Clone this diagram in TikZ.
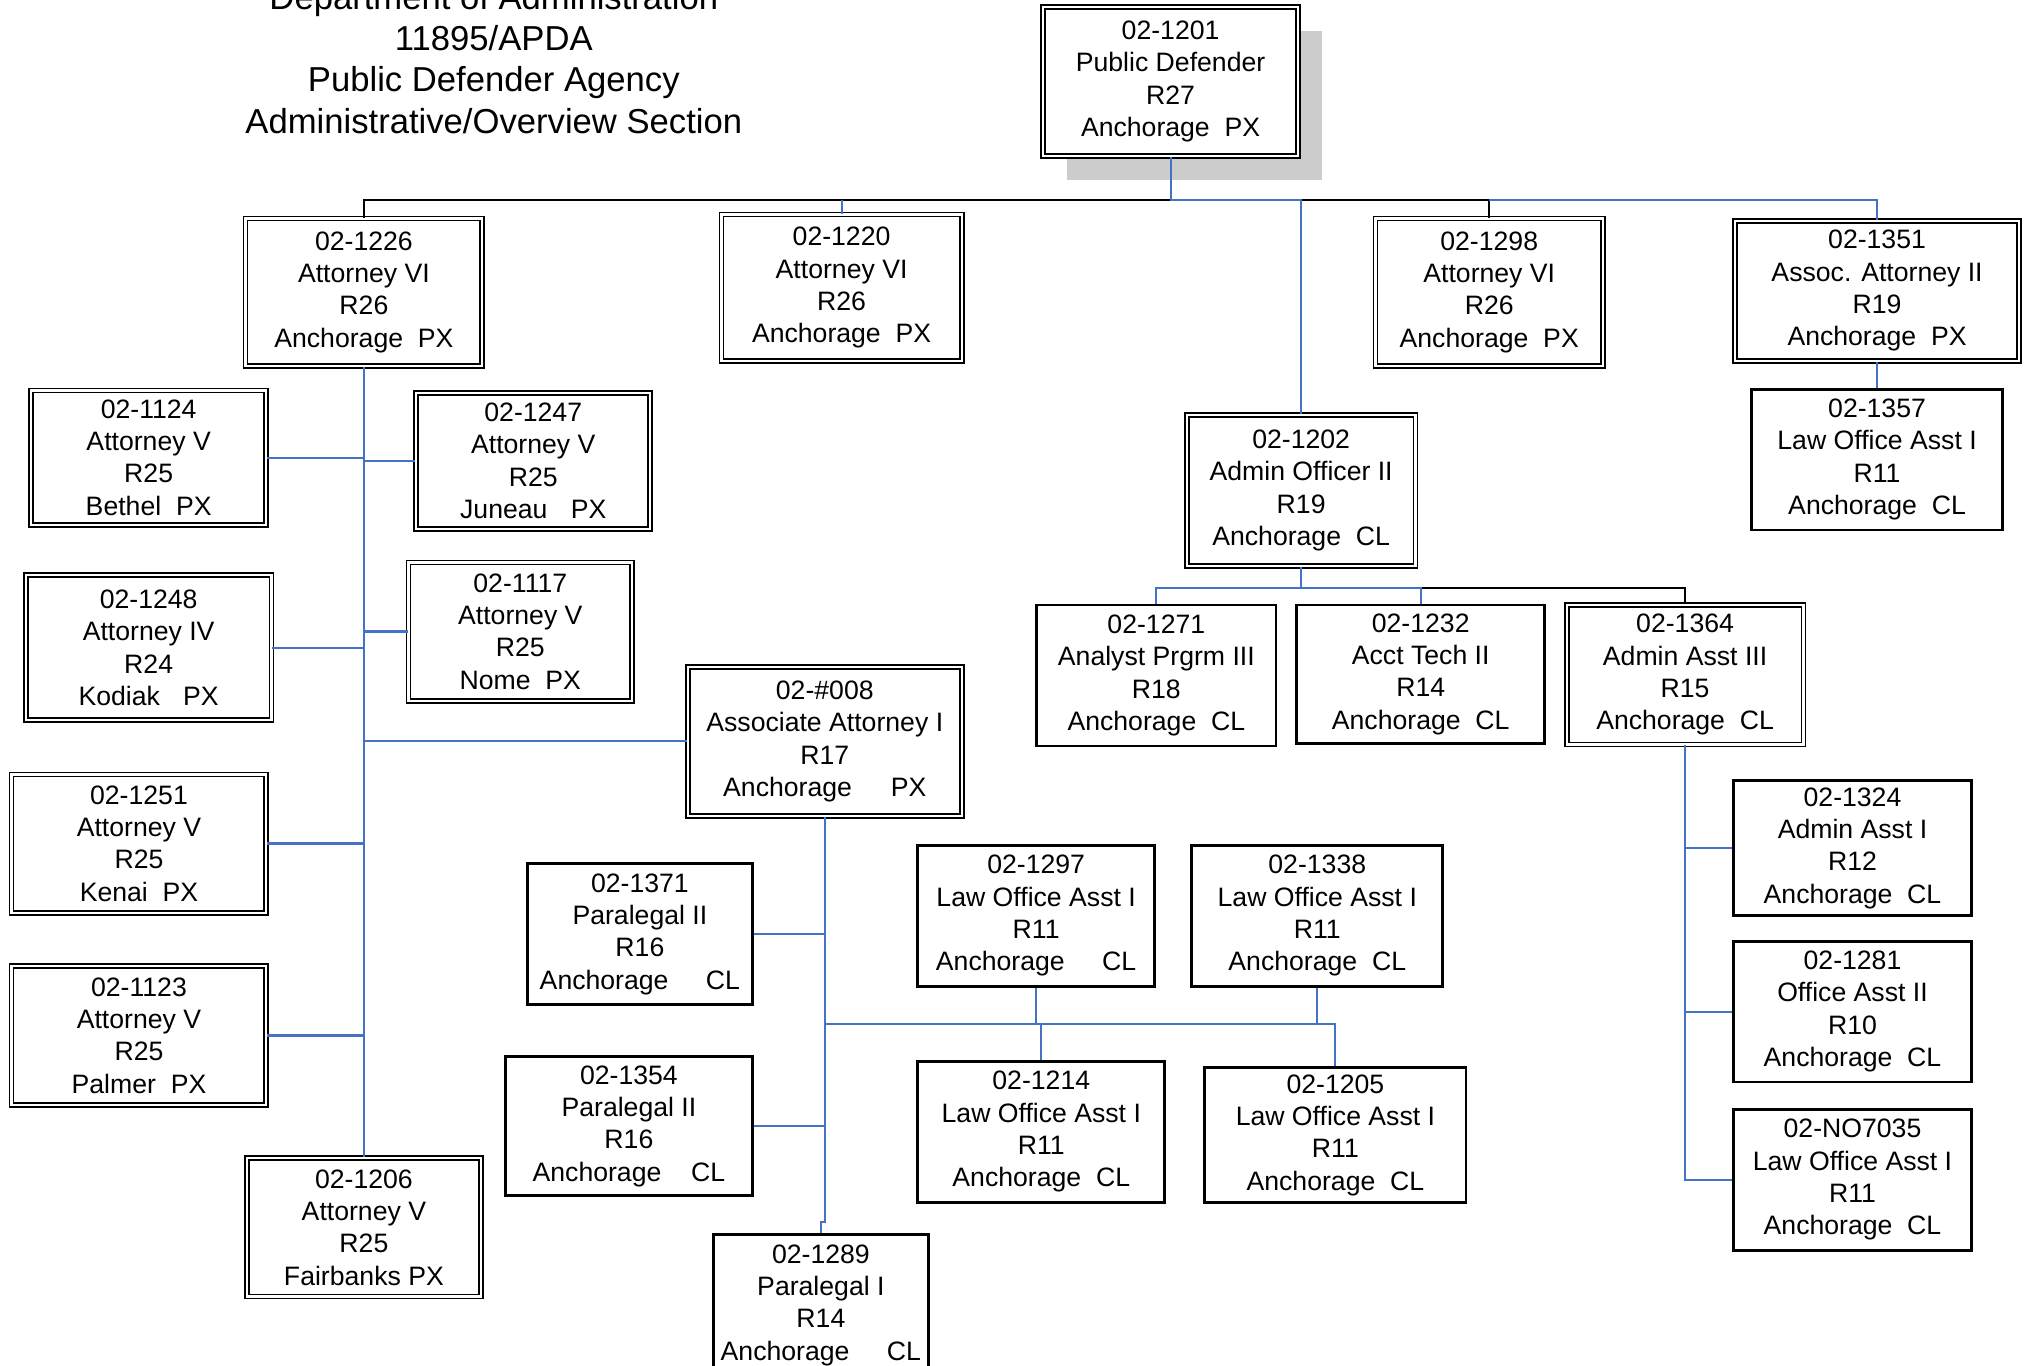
\documentclass[tikz,border=0pt]{standalone}
\usepackage{fontspec}
\setmainfont{Liberation Sans}
\usetikzlibrary{shadows}
\definecolor{linkblue}{RGB}{68,114,196}

\begin{document}
\begin{tikzpicture}[
  x=0.5pt, y=-0.5pt,
  post/.style={rectangle, draw, fill=white, line width=1.1pt, align=center, inner sep=0pt, font=\fontsize{10.3}{12.5}\selectfont},
  postd/.style={post, line width=0.65pt, double, double distance=0.9pt},
  bl/.style={draw=linkblue, line width=0.8pt},
  blk/.style={draw=black, line width=0.8pt}
]
\useasboundingbox (0,0) rectangle (1568,1056);
\clip (0,0) rectangle (1568,1056);

\node[align=center, font=\fontsize{13.4}{16}\selectfont] (title) at (382,45.5) {Department of Administration\\11895/APDA\\Public Defender Agency\\Administrative/Overview Section};

\node[postd, general shadow={fill=gray!40, shadow xshift=9.3pt, shadow yshift=-9.3pt}, minimum width=98.5pt, minimum height=57.5pt] (p1201) at (905.5,63) {02-1201\\Public Defender\\R27\\Anchorage\ \ PX};

\node[postd, minimum width=91.5pt, minimum height=57pt] (p1226) at (281.5,226) {02-1226\\Attorney VI\\R26\\Anchorage\ \ PX};
\node[postd, minimum width=93pt, minimum height=56.5pt] (p1220) at (651,222.5) {02-1220\\Attorney VI\\R26\\Anchorage\ \ PX};
\node[postd, minimum width=88pt, minimum height=57pt] (p1298) at (1152,226) {02-1298\\Attorney VI\\R26\\Anchorage\ \ PX};
\node[postd, minimum width=110pt, minimum height=54pt] (p1351) at (1452,225) {02-1351\\Assoc. Attorney II\\R19\\Anchorage\ \ PX};
\node[post, minimum width=97pt, minimum height=54.5pt] (p1357) at (1452,355.5) {02-1357\\Law Office Asst I\\R11\\Anchorage\ \ CL};

\node[postd, minimum width=88.5pt, minimum height=58.5pt] (p1202) at (1006.5,379.5) {02-1202\\Admin Officer II\\R19\\Anchorage\ \ CL};
\node[post, minimum width=92.5pt, minimum height=54.5pt] (p1271) at (894.5,522.5) {02-1271\\Analyst Prgrm III\\R18\\Anchorage\ \ CL};
\node[post, minimum width=96pt, minimum height=53.5pt] (p1232) at (1099,521.5) {02-1232\\Acct Tech II\\R14\\Anchorage\ \ CL};
\node[postd, minimum width=91.5pt, minimum height=54pt] (p1364) at (1303.5,522) {02-1364\\Admin Asst III\\R15\\Anchorage\ \ CL};
\node[post, minimum width=92pt, minimum height=52pt] (p1324) at (1433,656) {02-1324\\Admin Asst I\\R12\\Anchorage\ \ CL};
\node[post, minimum width=92pt, minimum height=54.5pt] (p1281) at (1433,782.5) {02-1281\\Office Asst II\\R10\\Anchorage\ \ CL};
\node[post, minimum width=92pt, minimum height=54.5pt] (pNO7035) at (1433,912.5) {02-NO7035\\Law Office Asst I\\R11\\Anchorage\ \ CL};

\node[postd, minimum width=91pt, minimum height=52pt] (p1124) at (115,354) {02-1124\\Attorney V\\R25\\Bethel\ \ PX};
\node[postd, minimum width=90.5pt, minimum height=52.5pt] (p1247) at (412.5,356.5) {02-1247\\Attorney V\\R25\\Juneau\hspace{9pt}PX};
\node[postd, minimum width=95pt, minimum height=56pt] (p1248) at (115,501) {02-1248\\Attorney IV\\R24\\Kodiak\hspace{9pt}PX};
\node[postd, minimum width=86.5pt, minimum height=53.5pt] (p1117) at (402.5,488.5) {02-1117\\Attorney V\\R25\\Nome\ \ PX};
\node[postd, minimum width=98.5pt, minimum height=53.5pt] (p1251) at (107.5,652.5) {02-1251\\Attorney V\\R25\\Kenai\ \ PX};
\node[postd, minimum width=98.5pt, minimum height=54pt] (p1123) at (107.5,801) {02-1123\\Attorney V\\R25\\Palmer\ \ PX};
\node[postd, minimum width=90.5pt, minimum height=53.5pt] (p1206) at (281.5,949.5) {02-1206\\Attorney V\\R25\\Fairbanks PX};

\node[postd, minimum width=106pt, minimum height=57.5pt] (p008) at (638,573.5) {02-\#008\\Associate Attorney I\\R17\\Anchorage\hspace{15pt}PX};
\node[post, minimum width=87pt, minimum height=54.5pt] (p1371) at (495,722.5) {02-1371\\Paralegal II\\R16\\Anchorage\hspace{14.5pt}CL};
\node[post, minimum width=95.5pt, minimum height=54pt] (p1354) at (486.5,871) {02-1354\\Paralegal II\\R16\\Anchorage\hspace{11.5pt}CL};
\node[post, minimum width=83pt, minimum height=54.5pt] (p1289) at (635,1009.5) {02-1289\\Paralegal I\\R14\\Anchorage\hspace{14.5pt}CL};
\node[post, minimum width=91.5pt, minimum height=54.5pt] (p1297) at (801.5,708.5) {02-1297\\Law Office Asst I\\R11\\Anchorage\hspace{14.5pt}CL};
\node[post, minimum width=97pt, minimum height=54.5pt] (p1338) at (1019,708.5) {02-1338\\Law Office Asst I\\R11\\Anchorage\ \ CL};
\node[post, minimum width=95.5pt, minimum height=54.5pt] (p1214) at (805.5,875.5) {02-1214\\Law Office Asst I\\R11\\Anchorage\ \ CL};
\node[post, minimum width=101pt, minimum height=52pt] (p1205) at (1033,878) {02-1205\\Law Office Asst I\\R11\\Anchorage\ \ CL};

\coordinate (tb) at (905.5,155);
\draw[blk] (p1226.north) |- (tb) -| (p1298.north);
\draw[bl] (p1201.south) -- (tb) -- (p1202.north |- tb) -- (p1202.north);
\draw[bl] (p1298.north |- tb) -| (p1351.north);
\draw[bl] (p1220.north) -- (p1220.north |- tb);
\draw[bl] (p1351.south) -- (p1357.north);

\draw[bl] (p1226.south) -- (p1206.north);
\foreach \n in {p1124,p1248,p1251,p1123} \draw[bl] (\n.east) -- (\n.east -| p1226.south);
\foreach \n in {p1247,p1117,p008} \draw[bl] (\n.west) -- (\n.west -| p1226.south);

\coordinate (ab) at (1006.5,455);
\draw[blk] (p1232.north |- ab) -| (p1364.north);
\draw[bl] (p1202.south) -- (ab);
\draw[bl] (p1271.north) |- (ab) -| (p1232.north);

\draw[bl] (p1364.south) |- (pNO7035.west);
\foreach \n in {p1324,p1281} \draw[bl] (\n.west) -- (\n.west -| p1364.south);

\coordinate (j1289) at (638,945);
\coordinate (lb) at (638,792);
\draw[bl] (p008.south) -- (j1289) -| (p1289.north);
\foreach \n in {p1371,p1354} \draw[bl] (\n.east) -- (\n.east -| p008.south);
\draw[bl] (lb) -| (p1205.north);
\foreach \n in {p1297,p1338} \draw[bl] (\n.south) -- (\n.south |- lb);
\draw[bl] (p1214.north) -- (p1214.north |- lb);
\end{tikzpicture}
\end{document}
